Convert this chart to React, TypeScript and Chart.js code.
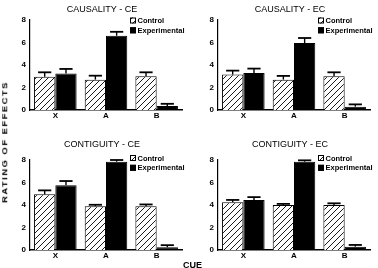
import React, { useEffect, useRef } from 'react';
import { Chart, registerables } from 'chart.js';

Chart.register(...registerables);

const FONT = '"Liberation Sans", Arial, Helvetica, sans-serif';

const categories = ['X', 'A', 'B'];
const seriesLabels = ['Control', 'Experimental'];
const yTicks = [0, 2, 4, 6, 8];

// Causality, CE order
const causalityCeControl = [2.95, 2.7, 3.0];
const causalityCeControlErr = [0.4, 0.35, 0.35];
const causalityCeExperimental = [3.25, 6.6, 0.35];
const causalityCeExperimentalErr = [0.4, 0.35, 0.2];

// Causality, EC order
const causalityEcControl = [3.15, 2.7, 3.0];
const causalityEcControlErr = [0.35, 0.33, 0.35];
const causalityEcExperimental = [3.3, 5.95, 0.3];
const causalityEcExperimentalErr = [0.38, 0.45, 0.2];

// Contiguity, CE order
const contiguityCeControl = [4.95, 3.9, 3.9];
const contiguityCeControlErr = [0.35, 0.12, 0.15];
const contiguityCeExperimental = [5.75, 7.85, 0.25];
const contiguityCeExperimentalErr = [0.38, 0.15, 0.18];

// Contiguity, EC order
const contiguityEcControl = [4.25, 4.0, 4.0];
const contiguityEcControlErr = [0.2, 0.1, 0.15];
const contiguityEcExperimental = [4.45, 7.85, 0.3];
const contiguityEcExperimentalErr = [0.25, 0.12, 0.15];

function makeHatch(): CanvasPattern | string {
  const c = document.createElement('canvas');
  c.width = 6;
  c.height = 6;
  const g = c.getContext('2d');
  if (!g) return '#fff';
  g.fillStyle = '#fff';
  g.fillRect(0, 0, 6, 6);
  g.strokeStyle = '#000';
  g.lineWidth = 0.9;
  g.beginPath();
  g.moveTo(0, 6);
  g.lineTo(6, 0);
  g.moveTo(-1, 1);
  g.lineTo(1, -1);
  g.moveTo(5, 7);
  g.lineTo(7, 5);
  g.stroke();
  const p = g.createPattern(c, 'repeat');
  return p || '#fff';
}

type PanelProps = {
  title: string;
  control: number[];
  controlErr: number[];
  experimental: number[];
  experimentalErr: number[];
  left: number;
  top: number;
  height: number;
  padTop: number;
  xAxisH: number;
  titleY: number;
  legendY: number;
};

const WIDTH = 188;

function Panel(p: PanelProps) {
  const ref = useRef<HTMLCanvasElement | null>(null);

  useEffect(() => {
    const canvas = ref.current;
    if (!canvas) return;
    const hatch = makeHatch();
    const errs = [p.controlErr, p.experimentalErr];

    // one-sided (upper) error bars with a cap
    const errorBars = {
      id: 'errorBars',
      afterDatasetsDraw(chart: any) {
        const ctx = chart.ctx;
        const yScale = chart.scales.y;
        ctx.save();
        ctx.strokeStyle = '#000';
        chart.data.datasets.forEach((ds: any, di: number) => {
          const meta = chart.getDatasetMeta(di);
          meta.data.forEach((bar: any, i: number) => {
            const v = ds.data[i];
            const e = errs[di][i];
            const yTop = yScale.getPixelForValue(v + e);
            const capW = bar.width * 0.62;
            ctx.lineWidth = 1.4;
            ctx.beginPath();
            ctx.moveTo(bar.x, bar.y);
            ctx.lineTo(bar.x, yTop);
            ctx.stroke();
            ctx.lineWidth = 1.8;
            ctx.beginPath();
            ctx.moveTo(bar.x - capW / 2, yTop);
            ctx.lineTo(bar.x + capW / 2, yTop);
            ctx.stroke();
          });
        });
        ctx.restore();
      },
    };

    // panel title and the small legend in the upper right
    const decor = {
      id: 'panelDecor',
      afterDraw(chart: any) {
        const ctx = chart.ctx;
        ctx.save();
        ctx.fillStyle = '#000';
        ctx.font = `9px ${FONT}`;
        ctx.textAlign = 'center';
        ctx.textBaseline = 'middle';
        ctx.fillText(p.title, chart.chartArea.left + 72, p.titleY);
        const bx = chart.chartArea.left + 100;
        chart.data.datasets.forEach((ds: any, i: number) => {
          const y = p.legendY + i * 9.8;
          ctx.fillStyle = ds.backgroundColor;
          ctx.fillRect(bx, y - 3, 6, 6);
          ctx.strokeStyle = '#000';
          ctx.lineWidth = 1;
          ctx.strokeRect(bx + 0.5, y - 2.5, 5, 5);
          ctx.fillStyle = '#000';
          ctx.font = `bold 7.5px ${FONT}`;
          ctx.textAlign = 'left';
          ctx.fillText(ds.label, bx + 7.5, y + 0.5);
        });
        ctx.restore();
      },
    };

    const chart = new Chart(canvas, {
      type: 'bar',
      data: {
        labels: categories,
        datasets: [
          {
            label: seriesLabels[0],
            data: p.control,
            backgroundColor: hatch as any,
            borderColor: '#000',
            borderWidth: 1,
            categoryPercentage: 0.84,
            barPercentage: 1,
          },
          {
            label: seriesLabels[1],
            data: p.experimental,
            backgroundColor: '#000',
            borderColor: '#000',
            borderWidth: 1,
            categoryPercentage: 0.84,
            barPercentage: 1,
          },
        ],
      },
      options: {
        responsive: false,
        animation: false,
        devicePixelRatio: 1,
        layout: { padding: { top: p.padTop, right: 6, left: 0, bottom: 0 } },
        plugins: {
          legend: { display: false },
          title: { display: false },
          tooltip: { enabled: false },
        },
        scales: {
          x: {
            type: 'category',
            offset: true,
            grid: { display: false, drawTicks: false },
            border: { display: true, color: '#000', width: 1.5 },
            ticks: {
              color: '#000',
              padding: 1,
              font: { family: FONT, size: 8, weight: 'bold' },
            },
            afterFit: (s: any) => {
              s.height = p.xAxisH;
            },
          },
          y: {
            min: 0,
            max: 8,
            grid: { display: false, drawTicks: false },
            border: { display: true, color: '#000', width: 1.2 },
            ticks: {
              color: '#000',
              padding: 4,
              font: { family: FONT, size: 8, weight: 'bold' },
            },
            afterBuildTicks: (s: any) => {
              s.ticks = yTicks.map((v) => ({ value: v }));
            },
            afterFit: (s: any) => {
              s.width = 30;
            },
          },
        },
      },
      plugins: [errorBars, decor],
    });
    return () => chart.destroy();
  }, []);

  return (
    <canvas
      ref={ref}
      width={WIDTH}
      height={p.height}
      style={{ position: 'absolute', left: p.left, top: p.top, width: WIDTH, height: p.height }}
    />
  );
}

export default function App() {
  return (
    <div
      style={{
        position: 'absolute',
        left: 0,
        top: 0,
        width: 378,
        height: 268,
        background: '#fff',
        overflow: 'hidden',
        fontFamily: FONT,
      }}
    >
      <Panel
        title="CAUSALITY - CE"
        control={causalityCeControl}
        controlErr={causalityCeControlErr}
        experimental={causalityCeExperimental}
        experimentalErr={causalityCeExperimentalErr}
        left={0}
        top={0}
        height={130}
        padTop={20}
        xAxisH={20}
        titleY={10}
        legendY={20.5}
      />
      <Panel
        title="CAUSALITY - EC"
        control={causalityEcControl}
        controlErr={causalityEcControlErr}
        experimental={causalityEcExperimental}
        experimentalErr={causalityEcExperimentalErr}
        left={188}
        top={0}
        height={130}
        padTop={20}
        xAxisH={20}
        titleY={10}
        legendY={20.5}
      />
      <Panel
        title="CONTIGUITY - CE"
        control={contiguityCeControl}
        controlErr={contiguityCeControlErr}
        experimental={contiguityCeExperimental}
        experimentalErr={contiguityCeExperimentalErr}
        left={0}
        top={136}
        height={132}
        padTop={24}
        xAxisH={18}
        titleY={9}
        legendY={22}
      />
      <Panel
        title="CONTIGUITY - EC"
        control={contiguityEcControl}
        controlErr={contiguityEcControlErr}
        experimental={contiguityEcExperimental}
        experimentalErr={contiguityEcExperimentalErr}
        left={188}
        top={136}
        height={132}
        padTop={24}
        xAxisH={18}
        titleY={9}
        legendY={22}
      />
      <div
        style={{
          position: 'absolute',
          left: 5,
          top: 142,
          transform: 'translate(-50%, -50%) rotate(-90deg) scaleX(1.25)',
          whiteSpace: 'nowrap',
          fontSize: 7.5,
          fontWeight: 'bold',
          letterSpacing: 1.2,
          lineHeight: 1,
          color: '#000',
        }}
      >
        RATING OF EFFECTS
      </div>
      <div
        style={{
          position: 'absolute',
          left: 183,
          top: 261,
          fontSize: 9,
          fontWeight: 'bold',
          lineHeight: 1,
          color: '#000',
        }}
      >
        CUE
      </div>
    </div>
  );
}
